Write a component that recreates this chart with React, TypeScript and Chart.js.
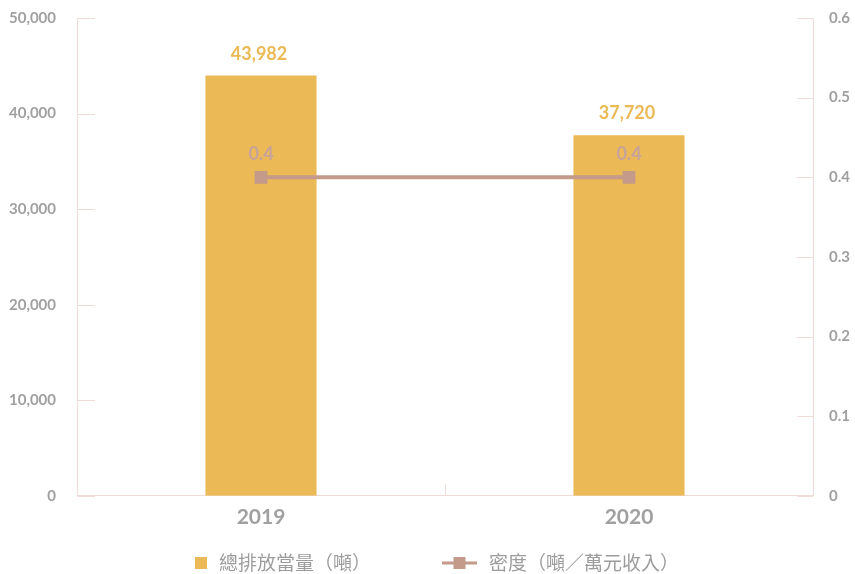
import React, { useEffect, useRef } from "react";
import { Chart, registerables } from "chart.js";

Chart.register(...registerables);

const categories = ["2019", "2020"];
const emissions = [43982, 37720];
const density = [0.4, 0.4];
const emissionLabel = "總排放當量（噸）";
const densityLabel = "密度（噸／萬元收入）";
const leftTicks = [0, 10000, 20000, 30000, 40000, 50000];
const rightTicks = [0, 0.1, 0.2, 0.3, 0.4, 0.5, 0.6];

const BAR_COLOR = "#EBB955";
const LINE_COLOR = "#C49A8B";
const LINE_LABEL_COLOR = "#C8A39B";
const AXIS_COLOR = "#EEDCD6";
const TICK_COLOR = "#A0A0A0";
const LEGEND_COLOR = "#9C9C9C";
const NUM_FONT = "Lato, 'Noto Sans', sans-serif";
const CJK_FONT = "'Noto Sans CJK TC', 'Noto Sans', sans-serif";

const innerTicks = {
  id: "innerTicks",
  afterDraw(chart: any) {
    const { ctx, chartArea, scales } = chart;
    ctx.save();
    ctx.strokeStyle = AXIS_COLOR;
    ctx.lineWidth = 1;
    const y = scales.y;
    y.ticks.forEach((_: any, i: number) => {
      const py = Math.round(y.getPixelForTick(i)) + 0.5;
      ctx.beginPath();
      ctx.moveTo(chartArea.left, py);
      ctx.lineTo(chartArea.left + 18, py);
      ctx.stroke();
    });
    const y1 = scales.y1;
    y1.ticks.forEach((_: any, i: number) => {
      const py = Math.round(y1.getPixelForTick(i)) + 0.5;
      ctx.beginPath();
      ctx.moveTo(chartArea.right - 16, py);
      ctx.lineTo(chartArea.right, py);
      ctx.stroke();
    });
    const x = scales.x;
    for (let i = 0; i <= categories.length; i++) {
      const px = Math.round(x.getPixelForValue(i - 0.5)) + 0.5;
      ctx.beginPath();
      ctx.moveTo(px, chartArea.bottom);
      ctx.lineTo(px, chartArea.bottom - 12);
      ctx.stroke();
    }
    ctx.restore();
  },
};

const dataLabels = {
  id: "dataLabels",
  afterDatasetsDraw(chart: any) {
    const { ctx } = chart;
    ctx.save();
    ctx.font = `bold 18px ${NUM_FONT}`;
    ctx.textAlign = "center";
    ctx.textBaseline = "alphabetic";
    chart.data.datasets.forEach((ds: any, di: number) => {
      const meta = chart.getDatasetMeta(di);
      meta.data.forEach((el: any, i: number) => {
        const v = ds.data[i];
        if (ds.type === "line") {
          ctx.fillStyle = LINE_LABEL_COLOR;
          ctx.fillText(String(v), el.x, el.y - 17);
        } else {
          ctx.fillStyle = BAR_COLOR;
          ctx.fillText(v.toLocaleString("en-US"), el.x - 2, el.y - 16);
        }
      });
    });
    ctx.restore();
  },
};

const customLegend = {
  id: "customLegend",
  afterDraw(chart: any) {
    const { ctx, height } = chart;
    ctx.save();
    ctx.font = `19px ${CJK_FONT}`;
    ctx.textBaseline = "middle";
    ctx.textAlign = "left";
    const w1 = ctx.measureText(emissionLabel).width;
    const w2 = ctx.measureText(densityLabel).width;
    const total = 12 + 12 + w1 + 71 + 35 + 12 + w2;
    let sx = Math.round(437 - total / 2);
    const cy = height - 11;
    ctx.fillStyle = BAR_COLOR;
    ctx.fillRect(sx, cy - 6, 12, 12);
    ctx.fillStyle = LEGEND_COLOR;
    ctx.fillText(emissionLabel, sx + 24, cy);
    sx = sx + 24 + w1 + 71;
    ctx.strokeStyle = LINE_COLOR;
    ctx.lineWidth = 3;
    ctx.beginPath();
    ctx.moveTo(sx, cy);
    ctx.lineTo(sx + 35, cy);
    ctx.stroke();
    ctx.fillStyle = LINE_COLOR;
    ctx.fillRect(sx + 11.5, cy - 6, 12, 12);
    ctx.fillStyle = LEGEND_COLOR;
    ctx.fillText(densityLabel, sx + 47, cy);
    ctx.restore();
  },
};

export default function App() {
  const ref = useRef<HTMLCanvasElement | null>(null);
  useEffect(() => {
    let chart: any = null;
    let cancelled = false;
    const build = () => {
      if (cancelled || !ref.current) return;
      chart = new Chart(ref.current, {
        data: {
          labels: categories,
          datasets: [
            {
              type: "line" as const,
              label: densityLabel,
              data: density,
              yAxisID: "y1",
              borderColor: LINE_COLOR,
              backgroundColor: LINE_COLOR,
              borderWidth: 4,
              pointStyle: "rect",
              pointRadius: 9,
              pointHoverRadius: 9,
              pointBackgroundColor: LINE_COLOR,
              pointBorderWidth: 0,
              order: 0,
            },
            {
              type: "bar" as const,
              label: emissionLabel,
              data: emissions,
              yAxisID: "y",
              backgroundColor: BAR_COLOR,
              barPercentage: 0.302,
              categoryPercentage: 1,
              order: 1,
            },
          ],
        } as any,
        options: {
          animation: false,
          responsive: true,
          maintainAspectRatio: false,
          layout: { padding: { left: 0, right: 0, top: 18, bottom: 35 } },
          plugins: {
            legend: { display: false },
            tooltip: { enabled: false },
          },
          scales: {
            x: {
              offset: true,
              grid: { display: false, drawTicks: false },
              border: { display: true, color: AXIS_COLOR, width: 1 },
              ticks: {
                color: TICK_COLOR,
                padding: 9,
                font: { family: NUM_FONT, size: 21, weight: "bold" },
              },
            },
            y: {
              position: "left",
              min: 0,
              max: 50000,
              afterBuildTicks: (s: any) => {
                s.ticks = leftTicks.map((v) => ({ value: v }));
              },
              afterFit: (s: any) => {
                s.width = 77;
                s.paddingTop = 0;
                s.paddingBottom = 0;
              },
              grid: { display: false, drawTicks: false },
              border: { display: true, color: AXIS_COLOR, width: 1 },
              ticks: {
                color: TICK_COLOR,
                padding: 21,
                font: { family: NUM_FONT, size: 15, weight: "bold" },
                callback: (v: any) => Number(v).toLocaleString("en-US"),
              },
            },
            y1: {
              position: "right",
              min: 0,
              max: 0.6,
              afterBuildTicks: (s: any) => {
                s.ticks = rightTicks.map((v) => ({ value: v }));
              },
              afterFit: (s: any) => {
                s.width = 42;
                s.paddingTop = 0;
                s.paddingBottom = 0;
              },
              grid: { display: false, drawTicks: false },
              border: { display: true, color: AXIS_COLOR, width: 1 },
              ticks: {
                color: TICK_COLOR,
                padding: 16,
                font: { family: NUM_FONT, size: 15, weight: "bold" },
                callback: (v: any) => String(Number(v)),
              },
            },
          },
        } as any,
        plugins: [innerTicks, dataLabels, customLegend],
      });
    };
    const fonts: any = (document as any).fonts;
    if (fonts && fonts.load) {
      Promise.all([
        fonts.load("bold 15px Lato"),
        fonts.load("bold 21px Lato"),
        fonts.load("19px 'Noto Sans CJK TC'", "總排放當量密度噸萬元收入"),
      ])
        .catch(() => null)
        .then(build);
    } else {
      build();
    }
    return () => {
      cancelled = true;
      if (chart) chart.destroy();
    };
  }, []);
  return (
    <div style={{ position: "fixed", left: 0, top: 0, width: 855, height: 574 }}>
      <canvas ref={ref} />
    </div>
  );
}
